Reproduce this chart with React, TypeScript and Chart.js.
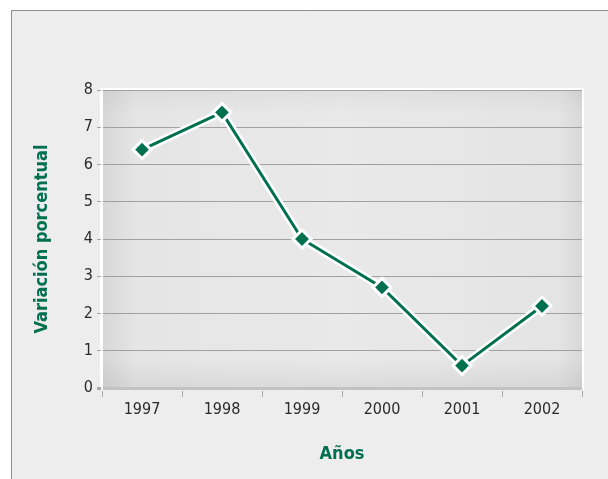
import React, { useEffect, useRef } from "react";
import { Chart, registerables } from "chart.js";

Chart.register(...registerables);

const years = ["1997", "1998", "1999", "2000", "2001", "2002"];
const variacion = [6.4, 7.4, 4.0, 2.7, 0.6, 2.2];
const yTitle = "Variación porcentual";
const xTitle = "Años";

const GREEN = "#00704f";
const FONT = '"Liberation Sans Narrow", "DejaVu Sans Condensed", "Arial Narrow", sans-serif';

const panelPlugin = {
  id: "panel",
  beforeDraw(chart: any) {
    const { ctx, chartArea, width, height } = chart;
    ctx.save();
    ctx.fillStyle = "#ffffff";
    ctx.fillRect(0, 0, width, height);
    ctx.fillStyle = "#ecedec";
    ctx.fillRect(11, 10, width - 11, height - 10);
    ctx.strokeStyle = "#8c8c8c";
    ctx.lineWidth = 1;
    ctx.beginPath();
    ctx.moveTo(11.5, height);
    ctx.lineTo(11.5, 10.5);
    ctx.lineTo(width, 10.5);
    ctx.stroke();

    const { left, top, right, bottom } = chartArea;
    const w = right - left;
    const h = bottom - top;
    const gh = ctx.createLinearGradient(left, 0, right, 0);
    gh.addColorStop(0, "#d6d6d6");
    gh.addColorStop(0.07, "#e5e5e5");
    gh.addColorStop(0.5, "#e9e9e9");
    gh.addColorStop(0.95, "#e4e4e4");
    gh.addColorStop(1, "#d8d8d8");
    ctx.fillStyle = gh;
    ctx.fillRect(left, top, w, h);
    const gv = ctx.createLinearGradient(0, top, 0, bottom);
    gv.addColorStop(0, "rgba(0,0,0,0.04)");
    gv.addColorStop(0.08, "rgba(0,0,0,0)");
    gv.addColorStop(0.9, "rgba(0,0,0,0)");
    gv.addColorStop(1, "rgba(0,0,0,0.06)");
    ctx.fillStyle = gv;
    ctx.fillRect(left, top, w, h);
    ctx.strokeStyle = "#ffffff";
    ctx.lineWidth = 2;
    ctx.beginPath();
    ctx.moveTo(left - 1, bottom + 2);
    ctx.lineTo(left - 1, top - 1);
    ctx.lineTo(right + 1, top - 1);
    ctx.lineTo(right + 1, bottom + 2);
    ctx.stroke();
    ctx.restore();
  },
};

export default function App() {
  const ref = useRef<HTMLCanvasElement | null>(null);

  useEffect(() => {
    document.body.style.margin = "0";
    const canvas = ref.current;
    if (!canvas) return;
    const chart = new Chart(canvas, {
      type: "line",
      data: {
        labels: years,
        datasets: [
          {
            label: "Variación",
            data: variacion,
            borderColor: GREEN,
            borderWidth: 3,
            backgroundColor: GREEN,
            pointStyle: "rectRot",
            pointRadius: 9,
            pointBackgroundColor: GREEN,
            pointBorderColor: "#ffffff",
            pointBorderWidth: 3,
            tension: 0,
            order: 1,
          },
          {
            label: "contorno",
            data: variacion,
            borderColor: "#ffffff",
            borderWidth: 8,
            pointRadius: 0,
            tension: 0,
            order: 2,
          },
        ],
      },
      options: {
        responsive: false,
        animation: false,
        events: [],
        layout: { padding: { top: 90, right: 26, left: 0, bottom: 0 } },
        plugins: {
          legend: { display: false },
          tooltip: { enabled: false },
        },
        scales: {
          x: {
            offset: true,
            afterFit: (s: any) => {
              s.height = 91;
            },
            grid: {
              offset: true,
              drawOnChartArea: false,
              color: "#a8a8a8",
              tickLength: 9,
              tickBorderDash: [0, 3, 6, 20],
              lineWidth: 1,
            },
            border: { display: false },
            ticks: {
              color: "#2a2a2a",
              padding: 3,
              font: { family: FONT, size: 16 },
            },
            title: {
              display: true,
              text: xTitle,
              color: GREEN,
              font: { family: FONT, size: 18, weight: "bold" },
              padding: { top: 0, bottom: 14 },
            },
          },
          y: {
            min: 0,
            max: 8,
            afterFit: (s: any) => {
              s.width = 102;
            },
            grid: {
              color: (c: any) => (c.tick && c.tick.value === 0 ? "#c2c2c2" : "#a0a0a0"),
              lineWidth: (c: any) => (c.tick && c.tick.value === 0 ? 3 : 1),
              tickColor: "#a8a8a8",
              tickLength: 5,
            },
            border: { display: true, color: "#ffffff", width: 2 },
            ticks: {
              stepSize: 1,
              color: "#2a2a2a",
              padding: 4,
              font: { family: FONT, size: 16 },
            },
            title: {
              display: true,
              text: yTitle,
              color: GREEN,
              font: { family: FONT, size: 18, weight: "bold" },
              padding: { top: 32, bottom: 0 },
            },
          },
        },
      },
      plugins: [panelPlugin],
    } as any);
    return () => chart.destroy();
  }, []);

  return <canvas ref={ref} width={608} height={479} style={{ display: "block" }} />;
}
